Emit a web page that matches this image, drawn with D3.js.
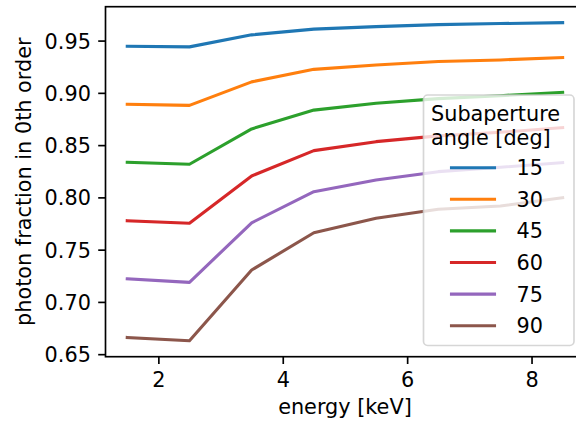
<!DOCTYPE html>
<html>
<head>
<meta charset="utf-8">
<script src="https://cdn.jsdelivr.net/npm/d3@7"></script>
<style>
  body { margin: 0; background: #fff; }
  text { font-family: "DejaVu Sans", sans-serif; }
</style>
</head>
<body>
<div id="chart"></div>
<script>
// data
var energy = [1.5, 2.5, 3.5, 4.5, 5.5, 6.5, 7.5, 8.5];
var angles = [15, 30, 45, 60, 75, 90];
var frac15 = [0.9445, 0.9440, 0.9555, 0.9610, 0.9634, 0.9653, 0.9663, 0.9672];
var frac30 = [0.8890, 0.8880, 0.9105, 0.9225, 0.9267, 0.9300, 0.9315, 0.9337];
var frac45 = [0.8335, 0.8317, 0.8655, 0.8835, 0.8900, 0.8945, 0.8973, 0.9005];
var frac60 = [0.7777, 0.7752, 0.8205, 0.8447, 0.8533, 0.8588, 0.8623, 0.8667];
var frac75 = [0.7221, 0.7187, 0.7757, 0.8054, 0.8166, 0.8246, 0.8288, 0.8332];
var frac90 = [0.6660, 0.6628, 0.7305, 0.7662, 0.7800, 0.7886, 0.7917, 0.7997];
var yTicks = [0.65, 0.70, 0.75, 0.80, 0.85, 0.90, 0.95];
var xTicks = [2, 4, 6, 8];
var colors = ["#1f77b4", "#ff7f0e", "#2ca02c", "#d62728", "#9467bd", "#8c564b"];

var series = [frac15, frac30, frac45, frac60, frac75, frac90];

var width = 576, height = 423;
var fs = 20.8;              // 10pt @150dpi
// plot box (window.top is reserved, so prefix these)
var pLeft = 105.5, pTop = 6.7, pBottom = 356.7, pRight = 584.4;
var tickLen = 7.3, tickPad = 7.3;

var svg = d3.select("#chart").append("svg")
  .attr("width", width)
  .attr("height", height);

// matplotlib style 5% margins
function padded(ext) {
  var m = (ext[1] - ext[0]) * 0.05;
  return [ext[0] - m, ext[1] + m];
}
var allY = d3.merge(series);

var xScale = d3.scaleLinear()
  .domain(padded(d3.extent(energy)))
  .range([pLeft, pRight]);
var yScale = d3.scaleLinear()
  .domain(padded(d3.extent(allY)))
  .range([pBottom, pTop]);

// lines
var line = d3.line()
  .x(function(d, i) { return xScale(energy[i]); })
  .y(function(d) { return yScale(d); });

series.forEach(function(s, k) {
  svg.append("path")
    .datum(s)
    .attr("fill", "none")
    .attr("stroke", colors[k])
    .attr("stroke-width", 3.1)
    .attr("stroke-linecap", "square")
    .attr("stroke-linejoin", "round")
    .attr("d", line);
});

// axes
var xAxis = svg.append("g")
  .attr("transform", "translate(0," + pBottom + ")")
  .call(d3.axisBottom(xScale).tickValues(xTicks).tickFormat(d3.format("d"))
    .tickSize(tickLen).tickSizeOuter(0).tickPadding(tickPad));
var yAxis = svg.append("g")
  .attr("transform", "translate(" + pLeft + ",0)")
  .call(d3.axisLeft(yScale).tickValues(yTicks).tickFormat(d3.format(".2f"))
    .tickSize(tickLen).tickSizeOuter(0).tickPadding(tickPad));

[xAxis, yAxis].forEach(function(ax) {
  ax.select(".domain").remove();
  ax.selectAll(".tick line").attr("stroke", "#000").attr("stroke-width", 1.67);
  ax.selectAll(".tick text")
    .attr("fill", "#000")
    .style("font-size", fs + "px")
    .style("font-family", "DejaVu Sans");
});
xAxis.selectAll(".tick text").attr("dy", "0.74em");
yAxis.selectAll(".tick text").attr("dy", "0.36em");

// frame
svg.append("rect")
  .attr("x", pLeft).attr("y", pTop)
  .attr("width", pRight - pLeft).attr("height", pBottom - pTop)
  .attr("fill", "none")
  .attr("stroke", "#000")
  .attr("stroke-width", 1.67);

// axis labels
svg.append("text")
  .attr("x", (pLeft + pRight) / 2)
  .attr("y", 414)
  .attr("text-anchor", "middle")
  .style("font-size", fs + "px")
  .text("energy [keV]");

svg.append("text")
  .attr("transform", "translate(31," + (pTop + pBottom) / 2 + ") rotate(-90)")
  .attr("text-anchor", "middle")
  .style("font-size", fs + "px")
  .text("photon fraction in 0th order");

// legend
var lg = svg.append("g");
lg.append("rect")
  .attr("x", 423.5).attr("y", 95)
  .attr("width", 150.5).attr("height", 250.5)
  .attr("rx", 4.2).attr("ry", 4.2)
  .attr("fill", "#fff").attr("fill-opacity", 0.8)
  .attr("stroke", "#ccc").attr("stroke-opacity", 0.8)
  .attr("stroke-width", 1.67);

lg.append("text")
  .attr("x", 431).attr("y", 120.5)
  .style("font-size", fs + "px")
  .text("Subaperture");
lg.append("text")
  .attr("x", 431).attr("y", 145)
  .style("font-size", fs + "px")
  .text("angle [deg]");

var entryY = d3.scaleLinear().domain([0, angles.length - 1]).range([167.7, 325.7]);
angles.forEach(function(a, k) {
  var y = entryY(k);
  lg.append("line")
    .attr("x1", 451.5).attr("x2", 494.5)
    .attr("y1", y).attr("y2", y)
    .attr("stroke", colors[k])
    .attr("stroke-width", 3.1)
    .attr("stroke-linecap", "square");
  lg.append("text")
    .attr("x", 516.5).attr("y", y)
    .attr("dy", "0.36em")
    .style("font-size", fs + "px")
    .text(a);
});
</script>
</body>
</html>
